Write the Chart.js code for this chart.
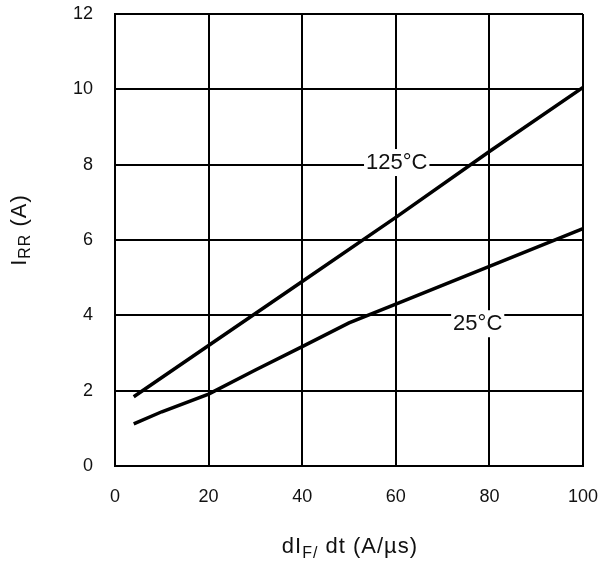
<!DOCTYPE html>
<html>
<head>
<meta charset="utf-8">
<script src="https://cdn.jsdelivr.net/npm/chart.js@4"></script>
<style>
html,body{margin:0;padding:0;background:#fff;}
#wrap{width:601px;height:562px;}
</style>
</head>
<body>
<div id="wrap"><canvas id="c" width="601" height="562"></canvas></div>
<script>
const xTicks = [0, 20, 40, 60, 80, 100];
const yTicks = [0, 2, 4, 6, 8, 10, 12];
const x125 = [4, 20, 40, 60, 80, 100];
const y125 = [1.84, 3.2, 4.9, 6.6, 8.35, 10.05];
const x25 = [4, 10, 20, 30, 40, 50, 60, 80, 100];
const y25 = [1.12, 1.44, 1.91, 2.55, 3.17, 3.8, 4.3, 5.3, 6.3];
const curveLabels = ['125°C', '25°C'];
const labelX = [60.2, 77.5];
const labelY = [8.07, 3.79];

const FONT = '"Liberation Sans", Arial, sans-serif';

const pts = (xs, ys) => xs.map((x, i) => ({x: x, y: ys[i]}));

const overlay = {
  id: 'overlay',
  afterDatasetsDraw(chart) {
    const ctx = chart.ctx;
    const xs = chart.scales.x, ys = chart.scales.y;
    ctx.save();
    ctx.font = '22px ' + FONT;
    ctx.textBaseline = 'middle';
    ctx.textAlign = 'center';
    curveLabels.forEach((t, i) => {
      const px = xs.getPixelForValue(labelX[i]);
      const py = ys.getPixelForValue(labelY[i]);
      const w = ctx.measureText(t).width;
      ctx.fillStyle = '#fff';
      ctx.fillRect(px - w / 2 - 2, py - 13, w + 4, 27);
      ctx.fillStyle = '#111';
      ctx.fillText(t, px, py + 1);
    });
    const drawRich = (parts, cx, cy) => {
      let total = 0;
      ctx.letterSpacing = '1px';
      parts.forEach(p => { ctx.font = p.size + 'px ' + FONT; total += ctx.measureText(p.t).width; });
      let x = cx - total / 2;
      ctx.textAlign = 'left';
      ctx.textBaseline = 'alphabetic';
      parts.forEach(p => {
        ctx.font = p.size + 'px ' + FONT;
        ctx.fillStyle = '#111';
        ctx.fillText(p.t, x, cy + (p.sub || 0));
        x += ctx.measureText(p.t).width;
      });
      ctx.letterSpacing = '0px';
    };
    drawRich([
      {t: 'dI', size: 22}, {t: 'F/', size: 16, sub: 5}, {t: ' dt (A/µs)', size: 22}
    ], 350, 553);
    ctx.save();
    ctx.translate(26, 230);
    ctx.rotate(-Math.PI / 2);
    drawRich([
      {t: 'I', size: 22}, {t: 'RR', size: 16, sub: 4}, {t: ' (A)', size: 22}
    ], 0, 0);
    ctx.restore();
    ctx.restore();
  }
};

new Chart(document.getElementById('c'), {
  type: 'scatter',
  data: {
    datasets: [
      {data: pts(x125, y125), showLine: true, borderColor: '#000', borderWidth: 3.5, pointRadius: 0, tension: 0, fill: false},
      {data: pts(x25, y25), showLine: true, borderColor: '#000', borderWidth: 3.5, pointRadius: 0, tension: 0, fill: false}
    ]
  },
  options: {
    responsive: false,
    animation: false,
    devicePixelRatio: 1,
    layout: {padding: {top: 14, right: 18, left: 0, bottom: 0}},
    plugins: {legend: {display: false}, tooltip: {enabled: false}},
    scales: {
      x: {
        type: 'linear', min: 0, max: 100,
        afterBuildTicks(s) { s.ticks = xTicks.map(v => ({value: v})); },
        afterFit(s) { s.height = 96; s.paddingLeft = 0; s.paddingRight = 0; },
        grid: {color: '#000', lineWidth: 2, drawTicks: false},
        border: {color: '#000', width: 2},
        ticks: {color: '#111', font: {family: FONT, size: 18}, padding: 20, maxRotation: 0}
      },
      y: {
        type: 'linear', min: 0, max: 12,
        afterBuildTicks(s) { s.ticks = yTicks.map(v => ({value: v})); },
        afterFit(s) { s.width = 115; s.paddingTop = 0; s.paddingBottom = 0; },
        grid: {color: '#000', lineWidth: 2, drawTicks: false},
        border: {color: '#000', width: 2},
        ticks: {color: '#111', font: {family: FONT, size: 18}, padding: 22}
      }
    }
  },
  plugins: [overlay]
});
</script>
</body>
</html>
